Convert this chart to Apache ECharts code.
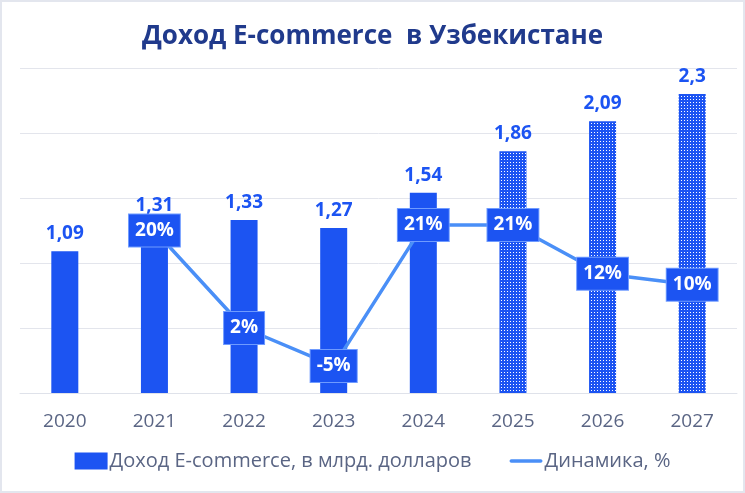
<!DOCTYPE html>
<html><head><meta charset="utf-8">
<script src="https://cdn.jsdelivr.net/npm/echarts@6/dist/echarts.min.js"></script>
<style>
html,body{margin:0;padding:0;background:#fff;}
#c{width:745px;height:493px;box-sizing:border-box;border:2px solid #e3e6ee;}
</style></head>
<body><div id="c"></div>
<script>
var years = ['2020','2021','2022','2023','2024','2025','2026','2027'];
var revenue = [1.09,1.31,1.33,1.27,1.54,1.86,2.09,2.3];
var growth = [null,20,2,-5,21,21,12,10];
var forecastFrom = 5;

var BLUE = '#1c54f2';
var pc = document.createElement('canvas');
pc.width = 3; pc.height = 3;
var px = pc.getContext('2d');
px.fillStyle = BLUE; px.fillRect(0,0,3,3);
px.fillStyle = '#ffffff'; px.fillRect(1,1,1,1);
var pattern = {image: pc, repeat: 'repeat'};

var barData = revenue.map(function(v,i){
  return i >= forecastFrom ? {value: v, itemStyle: {color: pattern}} : {value: v};
});

var chart = echarts.init(document.getElementById('c'), null, {renderer:'canvas'});
chart.setOption({
  animation:false,
  title:{text:'Доход E-commerce  в Узбекистане', left:'center', top:17,
    textStyle:{fontFamily:'Open Sans', fontWeight:'bold', fontSize:26, color:'#203a8c'}},
  grid:{left:18, right:6, top:66, bottom:98},
  legend:{bottom:15, left:'center', itemGap:38, itemWidth:33, itemHeight:17,
    textStyle:{fontFamily:'Open Sans', fontSize:20, color:'#5a6584', padding:[0,0,0,-3]},
    data:[{name:'Доход E-commerce, в млрд. долларов', icon:'rect'},
          {name:'Динамика, %', icon:'path://M2,0 L34,0 A2,2 0 0 1 34,4 L2,4 A2,2 0 0 1 2,0 Z'}]},
  xAxis:{type:'category', data:years,
    axisLine:{lineStyle:{color:'#dfe2ea', width:1}}, axisTick:{show:false},
    axisLabel:{fontFamily:'Open Sans', fontSize:19, color:'#5a6584', margin:19}},
  yAxis:[{type:'value', min:0, max:2.5, interval:0.5, axisLabel:{show:false},
    splitLine:{lineStyle:{color:'#e3e5ec', width:1}}, axisLine:{show:false}, axisTick:{show:false}},
    {type:'value', min:-10, max:50, show:false, splitLine:{show:false}}],
  series:[
    {name:'Доход E-commerce, в млрд. долларов', type:'bar', data:barData, barWidth:27,
     itemStyle:{color:BLUE},
     label:{show:true, position:'top', distance:8, fontFamily:'Open Sans', fontWeight:'bold', fontSize:19,
       color:'#1c54f2', formatter:function(p){return String(p.value).replace('.',',');}}},
    {name:'Динамика, %', type:'line', yAxisIndex:1, data:growth, symbol:'circle', symbolSize:1,
     showSymbol:true, z:5,
     lineStyle:{color:'#4a8ff7', width:3.5}, itemStyle:{color:'#4a8ff7'},
     labelLayout:{hideOverlap:false},
     label:{show:true, position:'inside', fontFamily:'Open Sans', fontWeight:'bold', fontSize:19,
       color:'#ffffff', backgroundColor:BLUE, borderColor:'#6f9bff', borderWidth:1,
       padding:[7,6,6,6], formatter:function(p){return p.value + '%';}}}
  ]
});
</script></body></html>
